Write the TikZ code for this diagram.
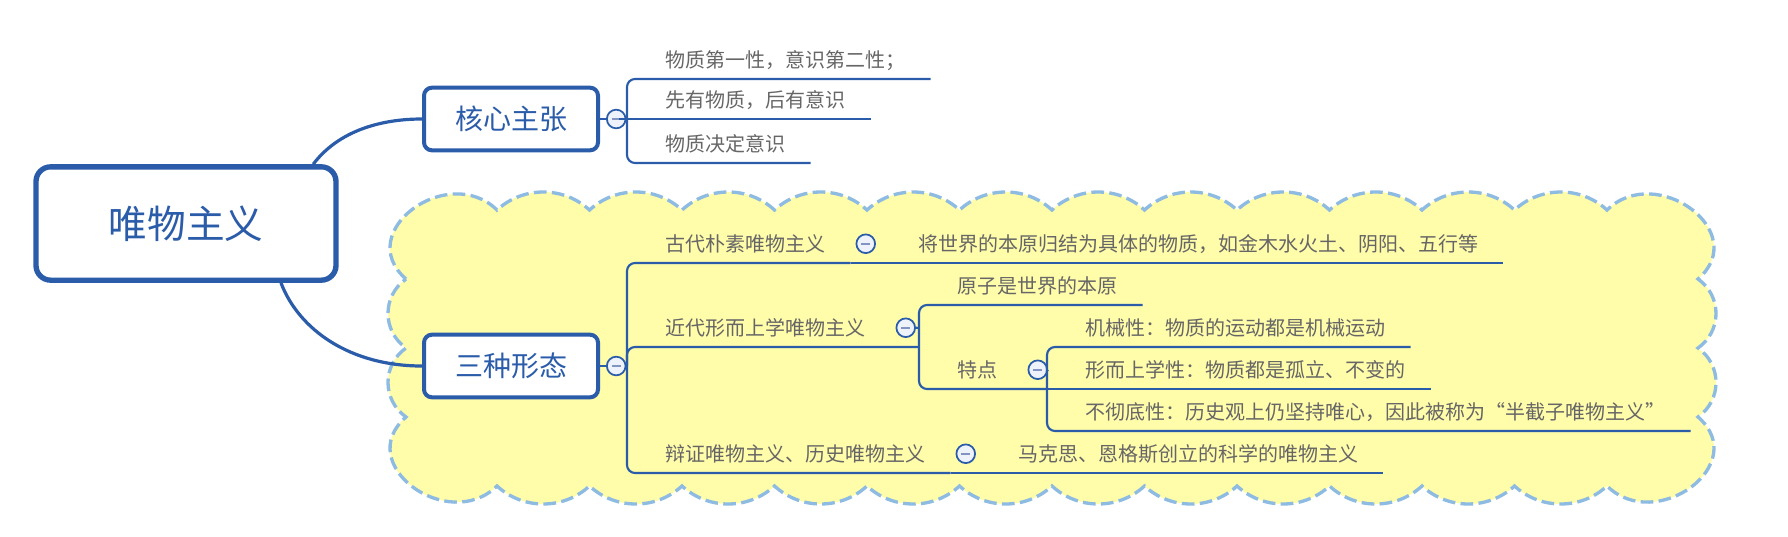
\documentclass[tikz,border=0pt]{standalone}
\usepackage{fontspec}
\setmainfont{Noto Sans CJK SC}
\usetikzlibrary{positioning}
\definecolor{linecol}{HTML}{2A5CAA}
\definecolor{leafcol}{HTML}{666666}
\definecolor{cloudfill}{HTML}{FFFCAA}
\definecolor{clouddash}{HTML}{8DBBE2}
\definecolor{foldfill}{HTML}{EEF2FA}
\definecolor{minuscol}{HTML}{8494C2}
\newcommand{\foldminus}{\textcolor{minuscol}{\rule{6.5pt}{1.8pt}}}

\begin{document}
\begin{tikzpicture}[x=0.75pt, y=-0.75pt, rootnode/.style={rectangle, rounded corners=11pt, draw=linecol, fill=white, line width=4pt, minimum width=225pt, minimum height=85pt, text=linecol, font=\fontsize{29pt}{34pt}\selectfont}, topicnode/.style={rectangle, rounded corners=6pt, draw=linecol, fill=white, line width=3pt, minimum width=130.5pt, minimum height=47pt, text=linecol, font=\fontsize{21pt}{25pt}\selectfont}, leaf/.style={anchor=south west, inner xsep=18.75pt, inner ysep=8.55pt, text height=11.4pt, text depth=0pt, text=leafcol, font=\fontsize{15pt}{18pt}\selectfont}, fold/.style={circle, draw=linecol, fill=foldfill, line width=1.3pt, minimum size=14pt, inner sep=0pt}, trunk/.style={draw=linecol, line width=2.4pt}, branch/.style={draw=linecol, line width=1.6pt, rounded corners=6pt}, cloud/.style={fill=cloudfill, draw=clouddash, line width=2.5pt, dash pattern=on 9.5pt off 4pt}]
    \useasboundingbox (0,0) rectangle (1788,536);

    %Cloud
    \path[cloud] (406,279)
        .. controls (352,232) and (448,162) .. (497,210)
        \foreach \i in {0,...,11} { .. controls ({523+92.5*\i},186) and ({563.5+92.5*\i},186) .. ({589.5+92.5*\i},210) }
        .. controls (1656,162) and (1752,232) .. (1698,279)
        \foreach \j in {0,1} { .. controls (1722,{296+69*\j}) and (1722,{331+69*\j}) .. (1698,{348+69*\j}) }
        .. controls (1752,464) and (1656,534) .. (1607,486)
        \foreach \i in {0,...,11} { .. controls ({1581-92.5*\i},510) and ({1540.5-92.5*\i},510) .. ({1514.5-92.5*\i},486) }
        .. controls (448,534) and (352,464) .. (406,417)
        \foreach \j in {0,1} { .. controls (382,{400-69*\j}) and (382,{365-69*\j}) .. (406,{348-69*\j}) }
        -- cycle;

    %Nodes
    \node[rootnode](wuwu) at (186,223.5){唯物主义};
    \node[topicnode](hexin) at (511,119){核心主张};
    \node[topicnode](santi) at (511,366){三种形态};
    \node[fold](hc)[right=4.5pt of hexin]{\foldminus};
    \node[fold](sc)[right=4.5pt of santi]{\foldminus};
    \coordinate (hbar) at (627,119);
    \coordinate (sbar) at (627,366);

    \node[leaf](k1) at (640,79){物质第一性，意识第二性；};
    \node[leaf](k2) at (640,119){先有物质，后有意识};
    \node[leaf](k3) at (640,163){物质决定意识};

    \node[leaf](g1) at (640,263){古代朴素唯物主义};
    \node[fold](g1c)[right=3.75pt of g1]{\foldminus};
    \node[leaf](g1a)[right=12.75pt of g1c]{将世界的本原归结为具体的物质，如金木水火土、阴阳、五行等};
    \node[leaf](g2) at (640,347){近代形而上学唯物主义};
    \node[fold](g2c)[right=3.75pt of g2]{\foldminus};
    \coordinate (g2bar) at (919,328);
    \node[leaf](g2a) at (932,305){原子是世界的本原};
    \node[leaf](g2b) at (932,389){特点};
    \node[fold](g2bc)[right=3.75pt of g2b]{\foldminus};
    \coordinate (g2bbar) at (1047,371);
    \node[leaf](g2b1) at (1060,347){机械性：物质的运动都是机械运动};
    \node[leaf](g2b2) at (1060,389){形而上学性：物质都是孤立、不变的};
    \node[leaf](g2b3) at (1060,431){不彻底性：历史观上仍坚持唯心，因此被称为“半截子唯物主义”};
    \node[leaf](g3) at (640,473){辩证唯物主义、历史唯物主义};
    \node[fold](g3c)[right=3.75pt of g3]{\foldminus};
    \node[leaf](g3a)[right=12.75pt of g3c]{马克思、恩格斯创立的科学的唯物主义};

    %Lines
    \draw[trunk] (wuwu.25) .. controls +(25,-33) and +(-42,0) .. (hexin.west);
    \draw[trunk] (wuwu.-32) .. controls +(18,47) and +(-72,0) .. (santi.west);

    \draw[branch] (hexin.east) -- (hc.west);
    \draw[branch] (hc.east) -- (hbar) -- (k2.south east);
    \draw[branch] (k1.south east) -| (hbar) |- (k3.south east);

    \draw[branch] (santi.east) -- (sc.west);
    \draw[branch] (sc.east) -- (sbar);
    \draw[branch] (g1.south east) -| (sbar) |- (g3.south east);
    \draw[branch] (sbar) |- (g2bar |- g2.south);
    \draw[branch] (g1.south east) -- (g1a.south east);
    \draw[branch] (g3.south east) -- (g3a.south east);
    \draw[branch] (g2c.east) -- (g2bar);
    \draw[branch] (g2a.south east) -| (g2bar) |- (g2bbar |- g2b.south);
    \draw[branch] (g2bc.east) -- (g2bbar);
    \draw[branch] (g2b1.south east) -| (g2bbar) |- (g2b3.south east);
    \draw[branch] (g2bbar |- g2b2.south) -- (g2b2.south east);

    \end{tikzpicture}
\end{document}
